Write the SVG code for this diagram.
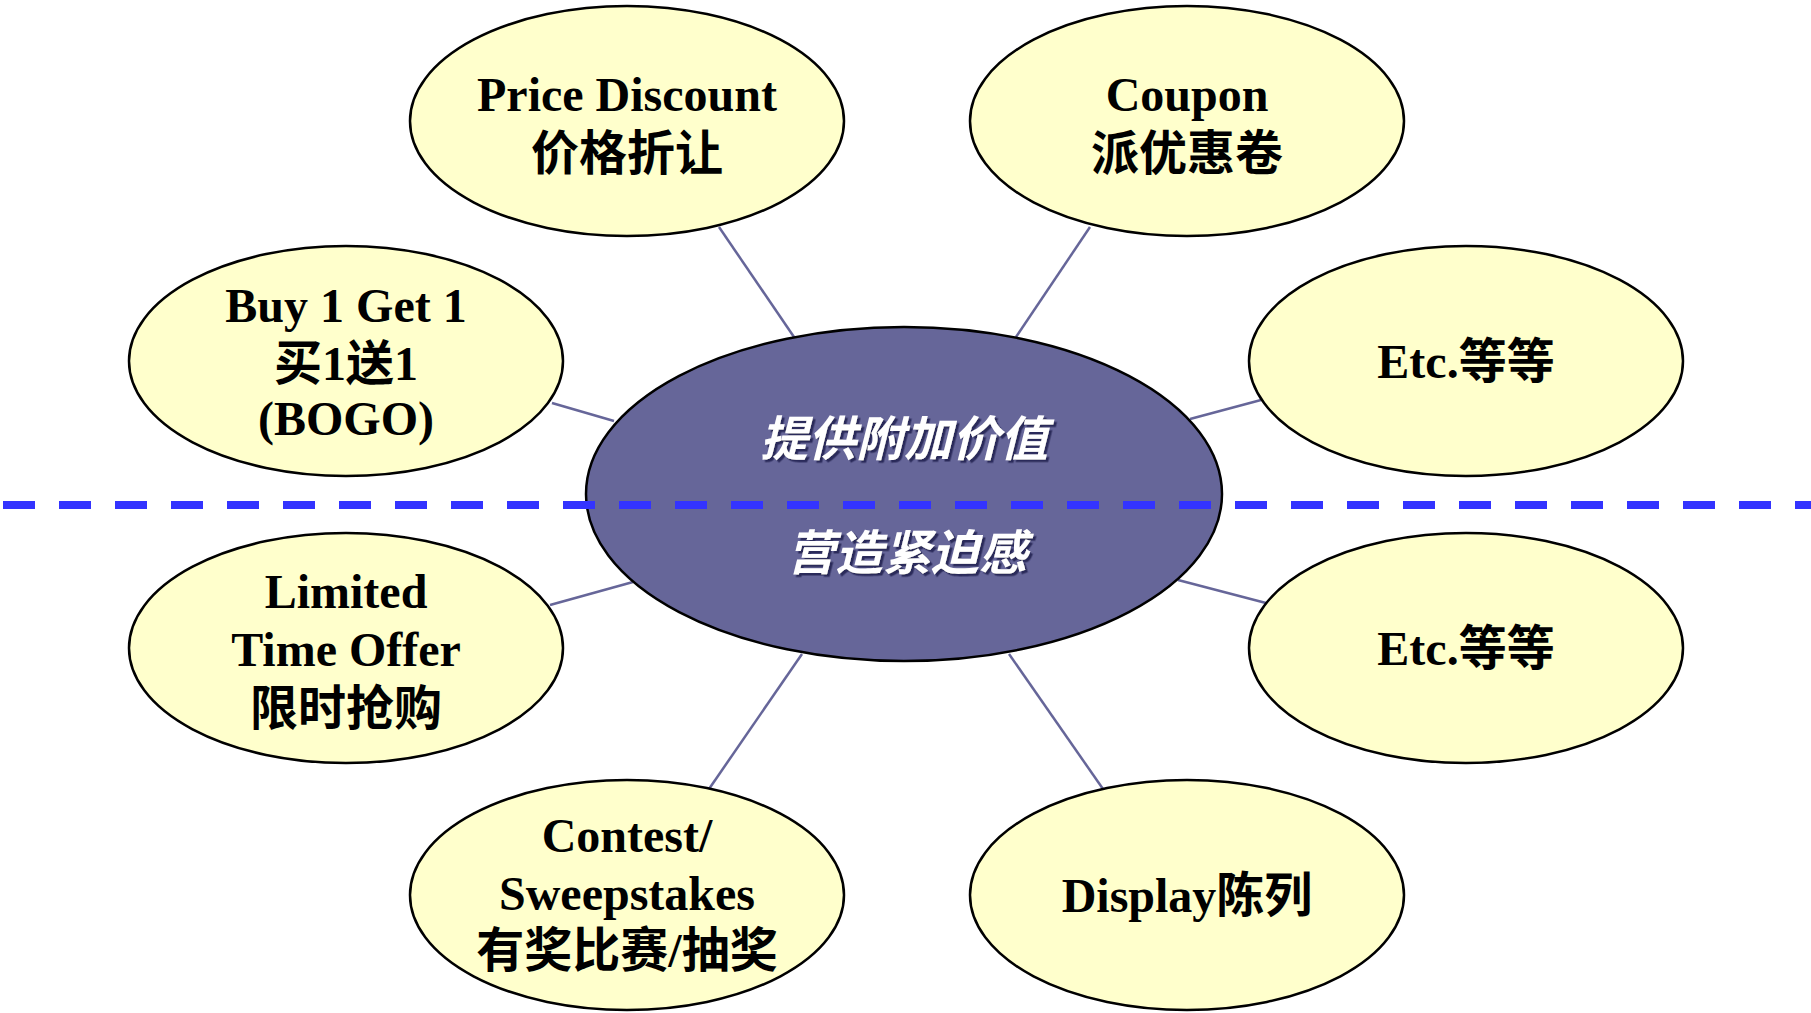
<svg xmlns="http://www.w3.org/2000/svg" width="1811" height="1013" viewBox="0 0 1811 1013">
<defs>
<style>
.leaf{fill:#FFFFCC;stroke:#000;stroke-width:2.5}
.hub{fill:#666699;stroke:#000;stroke-width:2.5}
.conn line{stroke:#666699;stroke-width:2.5}
.lbl{font-family:"Liberation Serif","Noto Sans CJK SC",serif;font-weight:bold;font-size:48px;fill:#000;text-anchor:middle}
.hubtxt{font-family:"Noto Sans CJK SC",sans-serif;font-style:italic;font-weight:bold;font-size:48px;fill:#fff;text-anchor:middle}
</style>
<filter id="sh" x="-10%" y="-20%" width="120%" height="150%">
<feDropShadow dx="2.5" dy="2.5" stdDeviation="0" flood-color="#2b2b5a" flood-opacity="1"/>
</filter>
</defs>
<rect width="1811" height="1013" fill="#fff"/>
<g id="connectors" class="conn">
<line x1="719" y1="227" x2="794" y2="337"/>
<line x1="1090" y1="227" x2="1016" y2="337"/>
<line x1="552" y1="403" x2="614" y2="421"/>
<line x1="1261" y1="400" x2="1190" y2="419"/>
<line x1="550" y1="605" x2="633" y2="582"/>
<line x1="1266" y1="603" x2="1178" y2="580"/>
<line x1="802" y1="654" x2="709" y2="789"/>
<line x1="1009" y1="654" x2="1103" y2="789"/>
</g>
<g id="node-price">
<ellipse class="leaf" cx="627" cy="121" rx="217" ry="115"/>
<text class="lbl" x="627" y="111">Price Discount</text>
<text class="lbl" x="627" y="170">价格折让</text>
</g>
<g id="node-coupon">
<ellipse class="leaf" cx="1187" cy="121" rx="217" ry="115"/>
<text class="lbl" x="1187" y="111">Coupon</text>
<text class="lbl" x="1187" y="170">派优惠卷</text>
</g>
<g id="node-bogo">
<ellipse class="leaf" cx="346" cy="361" rx="217" ry="115"/>
<text class="lbl" x="346" y="322">Buy 1 Get 1</text>
<text class="lbl" x="346" y="380">买1送1</text>
<text class="lbl" x="346" y="435">(BOGO)</text>
</g>
<g id="node-etc1">
<ellipse class="leaf" cx="1466" cy="361" rx="217" ry="115"/>
<text class="lbl" x="1466" y="378">Etc.等等</text>
</g>
<g id="node-limited">
<ellipse class="leaf" cx="346" cy="648" rx="217" ry="115"/>
<text class="lbl" x="346" y="608">Limited</text>
<text class="lbl" x="346" y="666">Time Offer</text>
<text class="lbl" x="346" y="725">限时抢购</text>
</g>
<g id="node-etc2">
<ellipse class="leaf" cx="1466" cy="648" rx="217" ry="115"/>
<text class="lbl" x="1466" y="665">Etc.等等</text>
</g>
<g id="node-contest">
<ellipse class="leaf" cx="627" cy="895" rx="217" ry="115"/>
<text class="lbl" x="627" y="852">Contest/</text>
<text class="lbl" x="627" y="910">Sweepstakes</text>
<text class="lbl" x="627" y="967">有奖比赛/抽奖</text>
</g>
<g id="node-display">
<ellipse class="leaf" cx="1187" cy="895" rx="217" ry="115"/>
<text class="lbl" x="1187" y="912">Display陈列</text>
</g>
<g id="node-center">
<ellipse class="hub" cx="904" cy="494" rx="318" ry="167"/>
<text class="hubtxt" x="904" y="456" filter="url(#sh)">提供附加价值</text>
<text class="hubtxt" x="907" y="570" filter="url(#sh)">营造紧迫感</text>
</g>
<g id="divider">
<line x1="3" y1="505" x2="1811" y2="505" stroke="#3333FF" stroke-width="8" stroke-dasharray="32 24"/>
</g>
</svg>
